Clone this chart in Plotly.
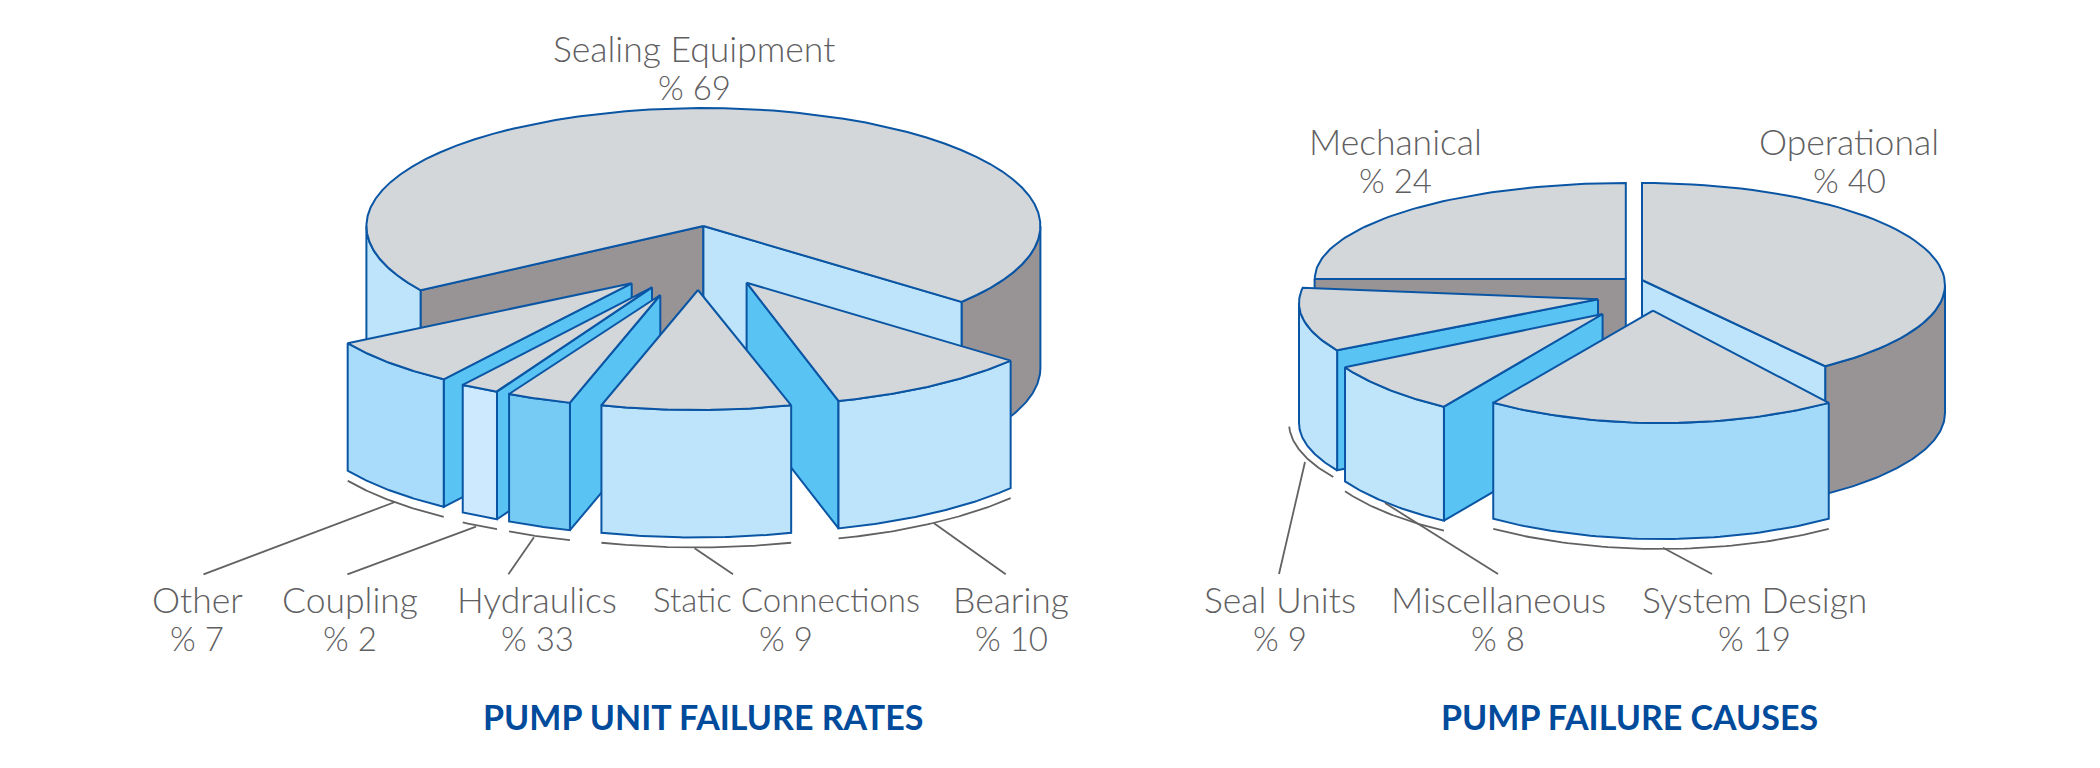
import math
import plotly.graph_objects as go

# ---------- chart content ----------
UNIT_TITLE = "PUMP UNIT FAILURE RATES"
UNIT_LABELS = ["Sealing Equipment", "Other", "Coupling", "Hydraulics", "Static Connections", "Bearing"]
UNIT_VALUES = [69, 7, 2, 33, 9, 10]

CAUSE_TITLE = "PUMP FAILURE CAUSES"
CAUSE_LABELS = ["Mechanical", "Operational", "Seal Units", "Miscellaneous", "System Design"]
CAUSE_VALUES = [24, 40, 9, 8, 19]

# ---------- drawing style ----------
OUTLINE = "#0b56a4"
TOP = "#d3d7da"
DARK = "#989496"
SIDE = "#59c3f3"
PALE = "#bde4fa"
TEXT = "#5f6062"
NAVY = "#004b9b"

fig = go.Figure()


def arc(cx, cy, rx, ry, t0, t1, drop=0, n=60):
    pts = []
    for i in range(n + 1):
        t = math.radians(t0 + (t1 - t0) * i / n)
        pts.append((cx + rx * math.cos(t), cy + ry * math.sin(t) + drop))
    return pts


def poly(pts, fill, width=2.0, line=OUTLINE):
    fig.add_trace(go.Scatter(
        x=[p[0] for p in pts] + [pts[0][0]],
        y=[p[1] for p in pts] + [pts[0][1]],
        mode="lines", fill="toself", fillcolor=fill,
        line=dict(color=line, width=width), hoverinfo="skip", showlegend=False))


def wall(e, t0, t1, depth, fill):
    top = arc(*e, t0, t1)
    poly(top + arc(*e, t1, t0, drop=depth), fill)


def cut(apex, p, depth, fill):
    poly([apex, p, (p[0], p[1] + depth), (apex[0], apex[1] + depth)], fill)


def wedge(apex, e, t0, t1):
    poly([apex] + arc(*e, t0, t1), TOP)


def gray(pts):
    fig.add_trace(go.Scatter(x=[p[0] for p in pts], y=[p[1] for p in pts], mode="lines",
                             line=dict(color="#626262", width=1.8), hoverinfo="skip", showlegend=False))


def piece(apex, e, t0, t1, depth, face, side=None, visible=None, rim=None):
    """One pulled-out slice: side wall, rim wall, top and the grey rim line below."""
    a = arc(*e, t0, t1, n=1)
    if side == "near_start":
        cut(apex, a[0], depth, SIDE)
    if side == "near_end":
        cut(apex, a[1], depth, SIDE)
    v0, v1 = visible if visible else (t0, t1)
    wall(e, v0, v1, depth, face)
    wedge(apex, e, t0, t1)
    if rim:
        gray(arc(rim[0], rim[1], rim[2], rim[3], rim[4], rim[5]))
    else:
        gray(arc(*e, v0, v1, drop=depth + 10))


# ---------- left pie ----------
M = (703.4, 226, 337, 118)
wall(M, 147, 180, 142, PALE)
wall(M, 0, 40, 142, DARK)
m_l = arc(*M, 147, 147, n=1)[0]
m_r = arc(*M, 40, 40, n=1)[0]
cut((703.4, 226), m_l, 142, DARK)
cut((703.4, 226), m_r, 142, PALE)
wedge((703.4, 226), M, 147, 400)

piece((746.6, 282.7), (746.6, 282.7, 341.7, 122.8), 39.4, 74.4, 127.5, PALE, side="near_end")
piece((631.7, 283.3), (631.7, 283.3, 331, 116.6), 124.6, 149.1, 127.5, "#a9dcfa", side="near_start")
piece((652, 287.3), (652, 287.3, 343.8, 117), 116.8, 123.4, 127.5, "#cde9fe", side="near_start")
piece((660.3, 295), (660.3, 295, 320, 112.3), 106.4, 118.2, 127.5, "#76cbf5", side="near_start")
piece((698, 290), (696.3, 292, 338, 118), 73.7, 106.3, 127.5, PALE)

# ---------- right pie ----------
MECH = (1625.8, 279, 311, 96)
poly([(1314.6, 279), (1625.8, 279), (1625.8, 407), (1314.6, 407)], DARK)
wedge((1625.8, 279), MECH, 180, 270)

OP = (1642, 285, 303, 102)
op_f = arc(*OP, 52.8, 52.8, n=1)[0]
wall(OP, 0, 52.8, 128, DARK)
cut((1642, 280), op_f, 128, PALE)
wedge((1642, 280), OP, -90, 52.8)

piece((1598, 299.3), (1599, 303, 300, 97), 150.8, 189, 120, PALE, side="near_start",
      visible=(150.8, 180), rim=(1599, 423, 310, 105, 149, 178))
piece((1602.6, 314), (1602.6, 314, 294.5, 110), 122.6, 151, 114, "#bfe5fb", side="near_start")
piece((1653, 310.7), (1661, 305, 300, 118), 56, 124, 116, "#a3daf9")

# ---------- leader lines ----------
for seg in [((203.5, 574.3), (395, 502)), ((347.4, 574.3), (476, 526.7)), ((508.4, 574.3), (534, 537.3)),
            ((733, 574.3), (694.6, 548.3)), ((1005.7, 574.3), (934, 523.3)),
            ((1279, 574), (1305, 462)), ((1498, 574), (1385, 503)), ((1712, 574), (1663, 547.7))]:
    gray(list(seg))


# ---------- text ----------
def label(x, y, name, value, size=35.5):
    for yy, txt, s in ((y, name, size), (y + 39, "% " + str(value), 33)):
        fig.add_annotation(x=x, y=yy, text=txt, showarrow=False, xanchor="center", yanchor="middle",
                           font=dict(family="Lato", size=s, color=TEXT, weight=300))


for x, y, i, s in [(694, 48, 0, 35.5), (197, 599, 1, 35.5), (349.5, 599, 2, 35.5), (537, 599, 3, 35.5),
                   (786, 599, 4, 33), (1011, 599, 5, 35.5)]:
    label(x, y, UNIT_LABELS[i], UNIT_VALUES[i], s)
for x, y, i in [(1395, 141, 0), (1849, 141, 1), (1280, 599, 2), (1498, 599, 3), (1754, 599, 4)]:
    label(x, y, CAUSE_LABELS[i], CAUSE_VALUES[i])
for x, t in ((703, UNIT_TITLE), (1629.5, CAUSE_TITLE)):
    fig.add_annotation(x=x, y=716, text=t, showarrow=False, xanchor="center", yanchor="middle",
                       font=dict(family="Lato", size=34, color=NAVY, weight=700))

fig.update_layout(width=2100, height=768, margin=dict(l=0, r=0, t=0, b=0), autosize=False,
                  paper_bgcolor="white", plot_bgcolor="white", showlegend=False,
                  xaxis=dict(range=[0, 2100], visible=False, fixedrange=True),
                  yaxis=dict(range=[768, 0], visible=False, fixedrange=True))
fig.write_html("out.html", post_script="document.body.style.margin='0';document.body.style.overflow='hidden';",
               config=dict(displayModeBar=False))
